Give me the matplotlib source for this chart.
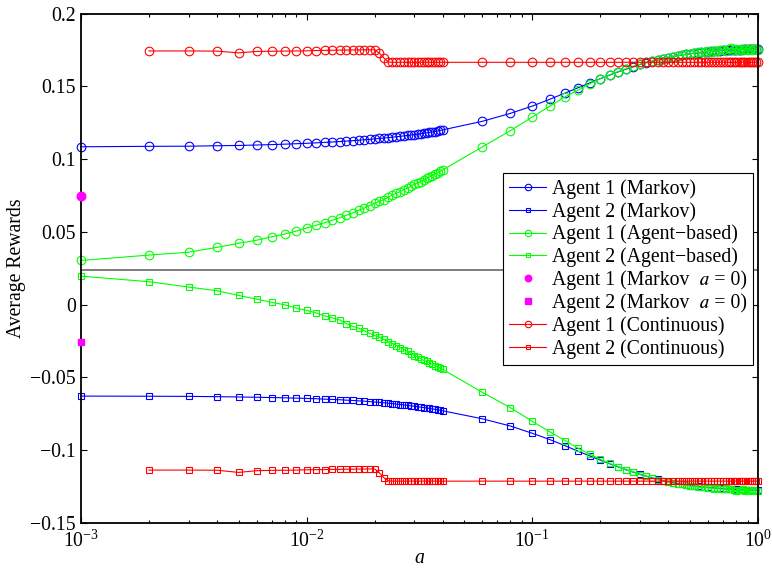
import numpy as np
import matplotlib
matplotlib.use("Agg")
import matplotlib.pyplot as plt
from matplotlib.ticker import FixedLocator, LogLocator, NullFormatter

plt.rcParams["font.family"] = ["Liberation Serif", "STIXGeneral", "DejaVu Serif"]
plt.rcParams["mathtext.fontset"] = "custom"
plt.rcParams["mathtext.rm"] = "Liberation Serif"
plt.rcParams["mathtext.it"] = "Liberation Serif:italic"

# sampled values of a
a_vals = [0.001, 0.002, 0.003, 0.004, 0.005, 0.006, 0.007, 0.008, 0.009, 0.010,
          0.011, 0.012, 0.013, 0.014, 0.015, 0.016, 0.017, 0.018, 0.019, 0.020,
          0.021, 0.022, 0.023, 0.024, 0.025, 0.026, 0.027, 0.028, 0.029, 0.030,
          0.031, 0.032, 0.033, 0.034, 0.035, 0.036, 0.037, 0.038, 0.039, 0.040,
          0.06, 0.08, 0.10, 0.12, 0.14, 0.16, 0.18, 0.20, 0.22, 0.24,
          0.26, 0.28, 0.30, 0.32, 0.34, 0.36, 0.38, 0.40, 0.42, 0.44,
          0.46, 0.48, 0.50, 0.52, 0.54, 0.56, 0.58, 0.60, 0.62, 0.64,
          0.66, 0.68, 0.70, 0.72, 0.74, 0.76, 0.78, 0.80, 0.82, 0.84,
          0.86, 0.88, 0.90, 0.92, 0.94, 0.96, 0.98, 1.00]

markov_1 = [0.1085, 0.1088, 0.1089, 0.1092, 0.1094, 0.1097, 0.1100, 0.1103, 0.1106, 0.1109,
            0.1112, 0.1115, 0.1118, 0.1121, 0.1124, 0.1127, 0.1130, 0.1133, 0.1136, 0.1139,
            0.1142, 0.1145, 0.1148, 0.1151, 0.1154, 0.1157, 0.1160, 0.1163, 0.1166, 0.1169,
            0.1172, 0.1175, 0.1178, 0.1181, 0.1184, 0.1187, 0.1190, 0.1193, 0.1197, 0.1201,
            0.1260, 0.1315, 0.1365, 0.1413, 0.1455, 0.1492, 0.1525, 0.1553, 0.1578, 0.1600,
            0.1619, 0.1636, 0.1651, 0.1664, 0.1674, 0.1683, 0.1691, 0.1698, 0.1705, 0.1711,
            0.1716, 0.1721, 0.1725, 0.1728, 0.1731, 0.1734, 0.1737, 0.1739, 0.1741, 0.1743,
            0.1745, 0.1746, 0.1748, 0.1749, 0.1750, 0.1751, 0.1752, 0.1753, 0.1754, 0.1754,
            0.1755, 0.1755, 0.1756, 0.1756, 0.1757, 0.1757, 0.1757, 0.1758]

markov_2 = [-0.0630, -0.0631, -0.0632, -0.0634, -0.0636, -0.0638, -0.0640, -0.0642, -0.0644, -0.0646,
            -0.0648, -0.0651, -0.0653, -0.0655, -0.0658, -0.0660, -0.0663, -0.0665, -0.0668, -0.0671,
            -0.0673, -0.0676, -0.0679, -0.0682, -0.0685, -0.0688, -0.0691, -0.0694, -0.0697, -0.0700,
            -0.0703, -0.0706, -0.0709, -0.0712, -0.0715, -0.0718, -0.0721, -0.0724, -0.0727, -0.0731,
            -0.0786, -0.0836, -0.0886, -0.0930, -0.0972, -0.1010, -0.1042, -0.1070, -0.1095, -0.1117,
            -0.1136, -0.1153, -0.1168, -0.1181, -0.1193, -0.1203, -0.1212, -0.1220, -0.1226, -0.1232,
            -0.1237, -0.1241, -0.1245, -0.1248, -0.1251, -0.1254, -0.1256, -0.1258, -0.1260, -0.1262,
            -0.1264, -0.1265, -0.1267, -0.1268, -0.1269, -0.1270, -0.1271, -0.1272, -0.1273, -0.1274,
            -0.1274, -0.1275, -0.1276, -0.1276, -0.1277, -0.1277, -0.1278, -0.1278]

agent_1 = [0.0303, 0.0340, 0.0360, 0.0393, 0.0421, 0.0442, 0.0466, 0.0485, 0.0505, 0.0526,
           0.0545, 0.0562, 0.0580, 0.0596, 0.0614, 0.0630, 0.0648, 0.0663, 0.0680, 0.0696,
           0.0710, 0.0722, 0.0738, 0.0753, 0.0765, 0.0776, 0.0790, 0.0801, 0.0815, 0.0829,
           0.0838, 0.0846, 0.0858, 0.0867, 0.0876, 0.0887, 0.0897, 0.0905, 0.0915, 0.0925,
           0.1084, 0.1196, 0.1290, 0.1366, 0.1430, 0.1476, 0.1519, 0.1554, 0.1580, 0.1602,
           0.1622, 0.1638, 0.1652, 0.1665, 0.1674, 0.1684, 0.1691, 0.1697, 0.1705, 0.1710,
           0.1718, 0.1722, 0.1724, 0.1729, 0.1734, 0.1735, 0.1740, 0.1741, 0.1739, 0.1746,
           0.1744, 0.1749, 0.1752, 0.1747, 0.1755, 0.1762, 0.1750, 0.1756, 0.1749, 0.1757,
           0.1752, 0.1760, 0.1754, 0.1757, 0.1749, 0.1755, 0.1760, 0.1753]

agent_2 = [0.0195, 0.0157, 0.0120, 0.0095, 0.0062, 0.0037, 0.0015, -0.0002, -0.0025, -0.0040,
           -0.0058, -0.0078, -0.0092, -0.0106, -0.0132, -0.0150, -0.0163, -0.0180, -0.0199, -0.0213,
           -0.0225, -0.0240, -0.0256, -0.0270, -0.0282, -0.0296, -0.0310, -0.0322, -0.0338, -0.0352,
           -0.0360, -0.0372, -0.0385, -0.0392, -0.0402, -0.0410, -0.0420, -0.0428, -0.0437, -0.0446,
           -0.0604, -0.0710, -0.0804, -0.0877, -0.0937, -0.0990, -0.1030, -0.1065, -0.1093, -0.1115,
           -0.1138, -0.1150, -0.1170, -0.1180, -0.1196, -0.1204, -0.1213, -0.1222, -0.1229, -0.1236,
           -0.1238, -0.1244, -0.1248, -0.1250, -0.1254, -0.1257, -0.1255, -0.1262, -0.1260, -0.1266,
           -0.1262, -0.1270, -0.1268, -0.1265, -0.1272, -0.1270, -0.1276, -0.1283, -0.1274, -0.1278,
           -0.1272, -0.1281, -0.1276, -0.1279, -0.1284, -0.1277, -0.1282, -0.1285]

# continuous model starts at a = 0.002
cont_1 = [0.1744, 0.1744, 0.1743, 0.1731, 0.1741, 0.1742, 0.1743, 0.1744, 0.1745,
          0.1747, 0.1748, 0.1749, 0.1750, 0.1750, 0.1751, 0.1751, 0.1752, 0.1752, 0.1752,
          0.1728, 0.1695, 0.1668, 0.1666, 0.1666, 0.1666, 0.1666, 0.1666, 0.1666, 0.1666,
          0.1666, 0.1666, 0.1666, 0.1666, 0.1666, 0.1666, 0.1666, 0.1666, 0.1666, 0.1666,
          0.1666, 0.1666, 0.1666, 0.1666, 0.1666, 0.1666, 0.1666, 0.1666, 0.1666, 0.1666,
          0.1666, 0.1666, 0.1666, 0.1666, 0.1666, 0.1666, 0.1666, 0.1666, 0.1666, 0.1666,
          0.1666, 0.1666, 0.1666, 0.1666, 0.1666, 0.1666, 0.1666, 0.1666, 0.1666, 0.1666,
          0.1666, 0.1666, 0.1666, 0.1666, 0.1666, 0.1666, 0.1666, 0.1666, 0.1666, 0.1666,
          0.1666, 0.1666, 0.1666, 0.1666, 0.1666, 0.1666, 0.1666, 0.1666]

cont_2 = [-0.1139, -0.1139, -0.1140, -0.1155, -0.1143, -0.1141, -0.1140, -0.1139, -0.1137,
          -0.1136, -0.1135, -0.1134, -0.1134, -0.1133, -0.1133, -0.1132, -0.1132, -0.1131, -0.1131,
          -0.1158, -0.1192, -0.1213, -0.1215, -0.1215, -0.1215, -0.1215, -0.1215, -0.1215, -0.1215,
          -0.1215, -0.1215, -0.1215, -0.1215, -0.1215, -0.1215, -0.1215, -0.1215, -0.1215, -0.1215,
          -0.1215, -0.1215, -0.1215, -0.1215, -0.1215, -0.1215, -0.1215, -0.1215, -0.1215, -0.1215,
          -0.1215, -0.1215, -0.1215, -0.1215, -0.1215, -0.1215, -0.1215, -0.1215, -0.1215, -0.1215,
          -0.1215, -0.1215, -0.1215, -0.1215, -0.1215, -0.1215, -0.1215, -0.1215, -0.1215, -0.1215,
          -0.1215, -0.1215, -0.1215, -0.1215, -0.1215, -0.1215, -0.1215, -0.1215, -0.1215, -0.1215,
          -0.1215, -0.1215, -0.1215, -0.1215, -0.1215, -0.1215, -0.1215, -0.1215]

# Markov results for a = 0, drawn at the left edge
a_zero_x = 0.001
a_zero_1 = 0.0745
a_zero_2 = -0.0255

ref_level = 0.0235

# italic a as the unicode math letter, so every legend row keeps the same height
labels = ["Agent 1 (Markov)", "Agent 2 (Markov)",
          "Agent 1 (Agent\u2212based)", "Agent 2 (Agent\u2212based)",
          "Agent 1 (Markov  \U0001D44E = 0)", "Agent 2 (Markov  \U0001D44E = 0)",
          "Agent 1 (Continuous)", "Agent 2 (Continuous)"]

y_ticks = [-0.15, -0.1, -0.05, 0, 0.05, 0.1, 0.15, 0.2]
y_ticklabels = ["\u22120.15", "\u22120.1", "\u22120.05", "0", "0.05", "0.1", "0.15", "0.2"]

FS = 14.2

fig = plt.figure(figsize=(7.72, 5.73), dpi=100)
ax = fig.add_axes([0.1049, 0.088, 0.877, 0.888])

ax.axhline(ref_level, color="0.45", lw=1.3, zorder=1)

circ = dict(marker="o", ms=6.2, mfc="none", mew=0.8, lw=0.8, clip_on=False)
sq = dict(marker="s", ms=4.8, mfc="none", mew=0.8, lw=0.8, clip_on=False)

a_cont = a_vals[1:]
ax.plot(a_vals, markov_1, color="#0000ff", label=labels[0], **circ)
ax.plot(a_vals, markov_2, color="#0000ff", label=labels[1], **sq)
ax.plot(a_vals, agent_1, color="#00ff00", label=labels[2], **circ)
ax.plot(a_vals, agent_2, color="#00ff00", label=labels[3], **sq)
ax.plot([a_zero_x], [a_zero_1], ls="none", marker="o", ms=6.2, color="#ff00ff",
        label=labels[4], clip_on=False, zorder=5)
ax.plot([a_zero_x], [a_zero_2], ls="none", marker="s", ms=5.0, color="#ff00ff",
        label=labels[5], clip_on=False, zorder=5)
ax.plot(a_cont, cont_1, color="#ff0000", label=labels[6], **circ)
ax.plot(a_cont, cont_2, color="#ff0000", label=labels[7], **sq)

ax.set_xscale("log")
ax.set_xlim(1e-3, 1)
ax.set_ylim(-0.15, 0.2)
ax.yaxis.set_major_locator(FixedLocator(y_ticks))
ax.set_yticklabels(y_ticklabels)
ax.xaxis.set_major_locator(LogLocator(base=10, numticks=10))
ax.xaxis.set_minor_locator(LogLocator(base=10, subs=np.arange(2, 10), numticks=10))
ax.xaxis.set_minor_formatter(NullFormatter())

ax.tick_params(which="both", direction="in", top=True, right=True, labelsize=FS, width=0.8)
ax.tick_params(which="major", length=4.5, pad=3.5)
ax.tick_params(which="minor", length=2.5)
ax.tick_params(axis="x", which="major", pad=6)
for sp in ax.spines.values():
    sp.set_linewidth(1.3)

ax.set_xlabel("$a$", fontsize=FS, labelpad=-2.5)
ax.set_ylabel("Average Rewards", fontsize=FS, labelpad=3)

leg = ax.legend(loc="upper right", bbox_to_anchor=(0.993, 0.687), borderaxespad=0,
                fontsize=FS, frameon=True, fancybox=False, framealpha=1,
                edgecolor="black", handlelength=1.9, handletextpad=0.3,
                labelspacing=0.16, borderpad=0.3, markerscale=0.75)
leg.get_frame().set_linewidth(0.8)

fig.savefig("out.png", dpi=100)
